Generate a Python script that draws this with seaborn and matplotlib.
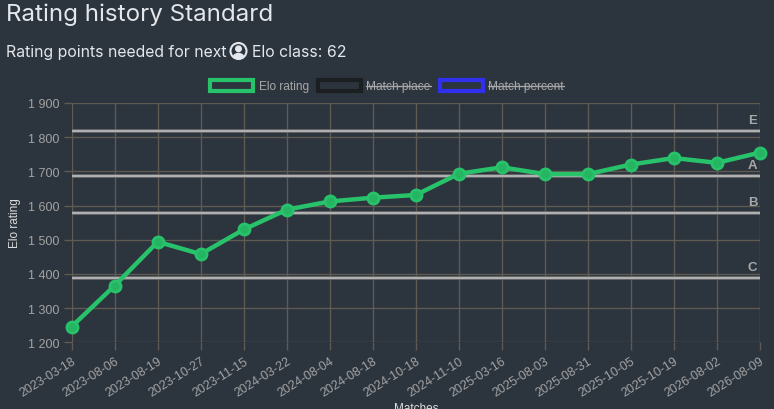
import matplotlib
matplotlib.use("Agg")
import matplotlib.pyplot as plt
import matplotlib.patches as mpatches
from matplotlib.lines import Line2D
from matplotlib.transforms import IdentityTransform
import seaborn as sns
import pandas as pd

# data
match_dates = ['2023-03-18', '2023-08-06', '2023-08-19', '2023-10-27', '2023-11-15',
               '2024-03-22', '2024-08-04', '2024-08-18', '2024-10-18', '2024-11-10',
               '2025-03-16', '2025-08-03', '2025-08-31', '2025-10-05', '2025-10-19',
               '2026-08-02', '2026-08-09']
elo_rating = [1246, 1366, 1494, 1458, 1530, 1588, 1612, 1623, 1631, 1693,
              1712, 1692, 1692, 1720, 1739, 1725, 1755]
class_names = ['E', 'A', 'B', 'C']
class_limits = [1817, 1686, 1578, 1387]
y_ticks = [1200, 1300, 1400, 1500, 1600, 1700, 1800, 1900]
legend_labels = ['Elo rating', 'Match place', 'Match percent']
legend_colors = ['#27c26a', '#1c1f22', '#3030ee']
points_needed = 62

BG = '#2c343e'
GRID = '#5f5b52'
TICK = '#a3a3a3'

sns.set_theme(style='dark')
plt.rcParams['font.family'] = ['Liberation Sans', 'DejaVu Sans']

df = pd.DataFrame({'idx': range(len(match_dates)), 'date': match_dates, 'elo': elo_rating})

fig = plt.figure(figsize=(7.74, 4.10), dpi=100, facecolor=BG)
ax = fig.add_axes([71.7 / 774, 1 - 343.3 / 410, (760 - 71.7) / 774, (343.3 - 104) / 410])
ax.set_facecolor(BG)

sns.lineplot(data=df, x='idx', y='elo', ax=ax, color=legend_colors[0], linewidth=3.2,
             marker='o', markersize=8, markeredgecolor=legend_colors[0],
             markerfacecolor='#24b462', markeredgewidth=2, zorder=5)
for ln in ax.lines:
    ln.set_clip_on(False)

for name, val in zip(class_names, class_limits):
    ax.axhline(val, color='#5c5f63', linewidth=2.8, zorder=3)
    ax.axhline(val, color='#b0b0b0', linewidth=1.6, zorder=3)
    ax.annotate(name, (len(match_dates) - 1, val), xytext=(-2, 4), textcoords='offset points',
                ha='right', va='bottom', color='#a8a8a8', fontsize=9.5, fontweight='bold')

ax.set_xlim(0, len(match_dates) - 1)
ax.set_ylim(y_ticks[0], y_ticks[-1])
ax.set_xticks(df['idx'])
ax.set_xticklabels(match_dates, rotation=32, ha='right', rotation_mode='anchor')
ax.set_yticks(y_ticks)
ax.set_yticklabels([f'{v:,}'.replace(',', ' ') for v in y_ticks])
ax.tick_params(colors=GRID, labelcolor=TICK, labelsize=9, length=6, width=1,
               bottom=True, left=True)
ax.tick_params(axis='x', pad=3)
ax.tick_params(axis='y', pad=3)
ax.grid(True, color=GRID, linewidth=1)
for s in ax.spines.values():
    s.set_visible(False)
ax.set_xlabel('')
ax.set_ylabel('')

fig.text(15 / 774, 1 - 223 / 410, 'Elo rating', rotation=90, ha='center', va='center',
         color='#dcdcdc', fontsize=8.5)
fig.text(416 / 774, 1 - 403 / 410, 'Matches', ha='center', va='top', color='#dcdcdc', fontsize=8.5)

# title and subtitle
fig.text(6 / 774, 1 - 4 / 410, 'Rating history Standard', ha='left', va='top',
         color='#e4e7eb', fontsize=17.4, family=['Inter', 'DejaVu Sans'])
sub1 = fig.text(6 / 774, 1 - 52 / 410, 'Rating points needed for next', ha='left', va='center',
                color='#e4e7eb', fontsize=11.4, family=['Inter', 'DejaVu Sans'])

# legend boxes, hidden datasets are struck through
handles = [mpatches.Patch(facecolor=BG, edgecolor=c, linewidth=3) for c in legend_colors]
leg = fig.legend(handles, legend_labels, loc='center', bbox_to_anchor=(387 / 774, 1 - 87 / 410),
                 ncol=3, frameon=False, fontsize=8.6, handlelength=3.6, handleheight=1.05,
                 handletextpad=0.45, columnspacing=0.75, labelcolor='#a8a8a8')

fig.canvas.draw()
r = fig.canvas.get_renderer()

# circle user icon drawn after the first part of the subtitle
bb = sub1.get_window_extent(r)
cx, cy, rad = bb.x1 + 12, (bb.y0 + bb.y1) / 2, 8
ring = mpatches.Circle((cx, cy), rad, transform=IdentityTransform(), facecolor='none',
                       edgecolor='#e4e7eb', linewidth=1.5)
head = mpatches.Circle((cx, cy + 2.2), 2.8, transform=IdentityTransform(), color='#e4e7eb')
body = mpatches.Ellipse((cx, cy - 7), 11, 9, transform=IdentityTransform(), color='#e4e7eb')
clip = mpatches.Circle((cx, cy), rad, transform=IdentityTransform())
for p in (ring, head, body):
    fig.add_artist(p)
body.set_clip_path(clip)
fig.text((cx + rad + 5) / 774, cy / 410, f'Elo class: {points_needed}', ha='left', va='center',
         color='#e4e7eb', fontsize=11.4, family=['Inter', 'DejaVu Sans'])

for t in leg.get_texts()[1:]:
    tb = t.get_window_extent(r)
    ym = (tb.y0 + tb.y1) / 2
    fig.add_artist(Line2D([tb.x0, tb.x1], [ym, ym], transform=IdentityTransform(),
                          color='#a8a8a8', linewidth=1))

fig.savefig('out.png', dpi=100, facecolor=BG)
